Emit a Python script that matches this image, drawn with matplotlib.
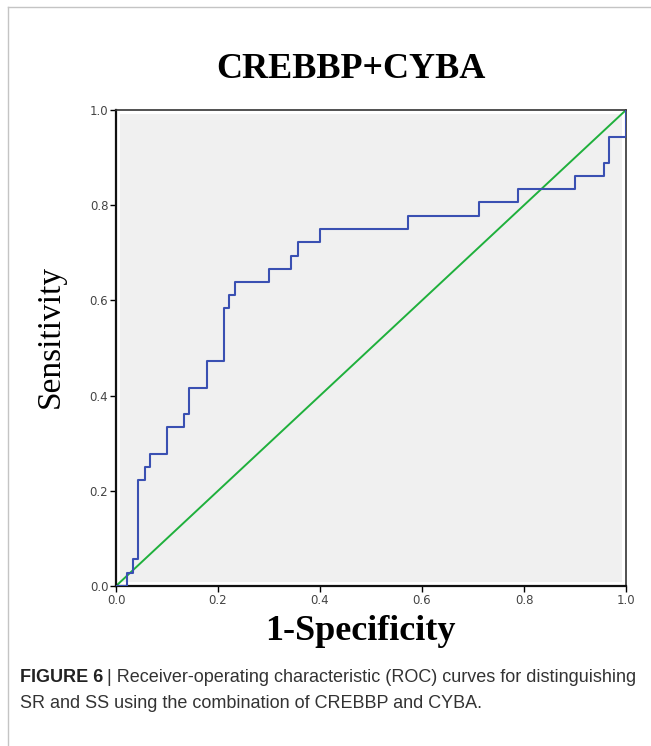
"""ROC curve for the CREBBP+CYBA combination (SR vs SS)."""

import matplotlib.pyplot as plt
from matplotlib.patches import Rectangle
from matplotlib.lines import Line2D

# ROC corner points (1-specificity, sensitivity)
fpr = [0.0, 0.022, 0.033, 0.044, 0.056, 0.067, 0.100, 0.133, 0.144, 0.178,
       0.211, 0.222, 0.233, 0.300, 0.344, 0.356, 0.400, 0.572, 0.711, 0.789,
       0.900, 0.956, 0.967, 1.0]
tpr = [0.0, 0.028, 0.056, 0.222, 0.250, 0.278, 0.333, 0.361, 0.417, 0.472,
       0.583, 0.611, 0.639, 0.667, 0.694, 0.722, 0.750, 0.778, 0.806, 0.833,
       0.861, 0.889, 0.944, 1.0]
ref_line = [0.0, 1.0]
ticks = [0.0, 0.2, 0.4, 0.6, 0.8, 1.0]
tick_labels = ['0.0', '0.2', '0.4', '0.6', '0.8', '1.0']

fig = plt.figure(figsize=(6.51, 7.46), dpi=100)

# light frame around the figure panel
fig.add_artist(Line2D([8 / 651, 8 / 651], [0, 1 - 7 / 746], color='#c4c4c4', lw=1.0))
fig.add_artist(Line2D([8 / 651, 1], [1 - 7 / 746, 1 - 7 / 746], color='#c4c4c4', lw=1.0))

ax = fig.add_axes([116 / 651, 160 / 746, 510 / 651, 476 / 746])
ax.set_facecolor('white')
ax.add_patch(Rectangle((0.007, 0.008), 0.986, 0.984, transform=ax.transAxes,
                       facecolor='#f0f0f0', edgecolor='none', zorder=0))

ax.plot(ref_line, ref_line, color='#1fb03c', lw=1.4, zorder=2)
ax.plot(fpr, tpr, color='#3a50b2', lw=1.5, drawstyle='steps-post', zorder=3)

ax.set_xlim(0, 1)
ax.set_ylim(0, 1)
ax.set_xticks(ticks)
ax.set_yticks(ticks)
ax.set_xticklabels(tick_labels)
ax.set_yticklabels(tick_labels)
ax.tick_params(direction='out', length=4, width=1.0, labelsize=8.5,
               labelcolor='#444444', pad=1.5)

for side in ['left', 'bottom']:
    ax.spines[side].set_linewidth(1.6)
    ax.spines[side].set_color('#111111')
for side in ['top', 'right']:
    ax.spines[side].set_linewidth(1.2)
    ax.spines[side].set_color('#333333')

fig.text(351 / 651, 1 - 70 / 746, 'CREBBP+CYBA', ha='center', va='center',
         fontsize=26, fontweight='bold', family='Liberation Serif')
fig.text(360 / 651, 1 - 632 / 746, '1-Specificity', ha='center', va='center',
         fontsize=26, fontweight='bold', family='Liberation Serif')
fig.text(50 / 651, 1 - 336 / 746, 'Sensitivity', ha='center', va='center',
         rotation=90, fontsize=24, family='Liberation Serif')

# caption
cap_font = ['Liberation Sans', 'DejaVu Sans']
t1 = fig.text(20 / 651, 1 - 677 / 746, 'FIGURE 6', ha='left', va='center',
              fontsize=13, fontweight='bold', family=cap_font, color='#222222')
fig.canvas.draw()
bb = t1.get_window_extent()
fig.text(bb.x1 / 651 + 0.006, 1 - 677 / 746,
         '| Receiver-operating characteristic (ROC) curves for distinguishing',
         ha='left', va='center', fontsize=13, family=cap_font, color='#333333')
fig.text(20 / 651, 1 - 704 / 746, 'SR and SS using the combination of CREBBP and CYBA.',
         ha='left', va='center', fontsize=13, family=cap_font, color='#333333')

plt.savefig('out.png', dpi=100)
